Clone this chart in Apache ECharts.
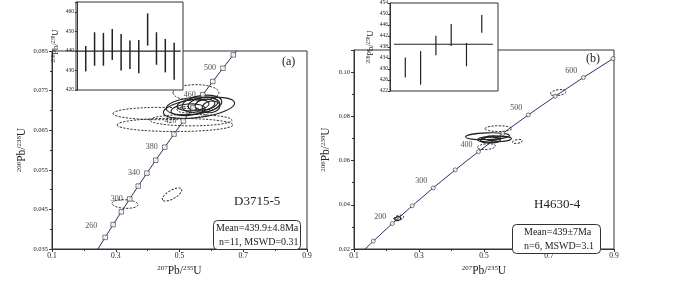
<!DOCTYPE html>
<html>
<head>
<meta charset="utf-8">
<script src="https://cdn.jsdelivr.net/npm/echarts@6/dist/echarts.min.js"></script>
<style>
html,body{margin:0;padding:0;background:#fff;}
#c{width:700px;height:282px;}
</style>
</head>
<body>
<div id="c"></div>
<script>
// ---------- Panel (a): D3715-5 ----------
const concA_age = [220, 240, 260, 280, 300, 320, 340, 360, 380, 400, 420, 440, 460, 480, 500, 520, 540];
const concA_r207 = [0.2419, 0.2667, 0.2918, 0.3175, 0.3437, 0.3705, 0.3977, 0.4255, 0.4539, 0.4828, 0.5123, 0.5424, 0.5731, 0.6044, 0.6363, 0.6688, 0.7020];
const concA_r206 = [0.03472, 0.03793, 0.04116, 0.04439, 0.04764, 0.05089, 0.05416, 0.05743, 0.06072, 0.06402, 0.06732, 0.07064, 0.07397, 0.07730, 0.08065, 0.08401, 0.08738];
const markA_ages = [240, 260, 280, 300, 320, 340, 360, 380, 400, 420, 440, 460, 480, 500, 520];
const labelA_ages = [260, 300, 340, 380, 420, 460, 500];
// ellipses: [x207, y206, halfWidthX, halfWidthY, tiltDeg, dashed]
const ellipsesA = [
  [0.5518, 0.07447, 0.0722, 0.00203, 0, 1],
  [0.4388, 0.06921, 0.1475, 0.00156, 0, 1],
  [0.4859, 0.06634, 0.1820, 0.00167, 0, 1],
  [0.5361, 0.06754, 0.1286, 0.00144, 0, 1],
  [0.5267, 0.07017, 0.0345, 0.00084, 0, 1],
  [0.3290, 0.04636, 0.0408, 0.00108, -3, 1],
  [0.4765, 0.04876, 0.0345, 0.00108, 30, 1],
  [0.5612, 0.07065, 0.1129, 0.00239, 8, 0],
  [0.5424, 0.07112, 0.0847, 0.00215, 6, 0],
  [0.5706, 0.07160, 0.0627, 0.00215, 8, 0],
  [0.5737, 0.07160, 0.0471, 0.00167, 10, 0],
  [0.5800, 0.07148, 0.0314, 0.00132, 10, 0],
  [0.5267, 0.07017, 0.0533, 0.00144, 5, 0],
  [0.5988, 0.07089, 0.0282, 0.00144, 10, 0],
  [0.5424, 0.07136, 0.0502, 0.00144, 5, 0]
];
const insetA_lo = [429.5, 432.4, 432.4, 435.4, 430.0, 430.7, 428.6, 442.7, 432.9, 429.0, 425.3];
const insetA_hi = [442.5, 449.5, 449.2, 451.2, 448.6, 445.3, 445.6, 459.2, 449.5, 446.1, 444.2];
const meanA = 439.9;

// ---------- Panel (b): H4630-4 ----------
const concB_age = [100, 150, 200, 250, 300, 350, 400, 450, 500, 550, 600, 650];
const concB_r207 = [0.10350, 0.15920, 0.21771, 0.27917, 0.34374, 0.41156, 0.48281, 0.55766, 0.63628, 0.71887, 0.80563, 0.89677];
const concB_r206 = [0.015633, 0.023542, 0.031511, 0.039543, 0.047637, 0.055795, 0.064016, 0.072300, 0.080650, 0.089064, 0.097544, 0.106090];
const markB_ages = [150, 200, 250, 300, 350, 400, 450, 500, 550, 600, 650];
const labelB_ages = [200, 300, 400, 500, 600];
const ellipsesB = [
  [0.5444, 0.07444, 0.0414, 0.00129, 0, 1],
  [0.5107, 0.07101, 0.0674, 0.00150, 2, 0],
  [0.5322, 0.06972, 0.0521, 0.00129, 2, 0],
  [0.5199, 0.06929, 0.0307, 0.00129, 2, 0],
  [0.5261, 0.07015, 0.0245, 0.00107, 2, 0],
  [0.5077, 0.06629, 0.0276, 0.00129, 5, 1],
  [0.6027, 0.06865, 0.0153, 0.00086, 10, 1],
  [0.2379, 0.03414, 0.0153, 0.00107, 15, 1],
  [0.2349, 0.03372, 0.0092, 0.00086, 20, 0],
  [0.7284, 0.09072, 0.0245, 0.00129, 8, 1]
];
const insetB_lo = [426.9, 424.3, 435.0, 438.4, 431.0, 443.2];
const insetB_hi = [434.2, 436.5, 442.1, 446.4, 439.5, 449.6];
const meanB = 439;

// ---------- helpers ----------
const FONT = 'Liberation Serif';
const INK = '#222';
const CURVE = '#2d2f6b';

function pairs(xs, ys) { return xs.map((x, i) => [x, ys[i]]); }
function markerData(ages, allAges, r207, r206) {
  return ages.map(a => { const i = allAges.indexOf(a); return [r207[i], r206[i], a]; });
}
function richName(a, b, c, d, size) {
  return {
    text: '{s|' + a + '}{n|' + b + '}{s|' + c + '}{n|' + d + '}',
    rich: {
      s: {fontFamily: FONT, fontSize: size * 0.6, color: INK, padding: [0, 0, size * 0.45, 0]},
      n: {fontFamily: FONT, fontSize: size, color: INK}
    }
  };
}
const xNameA = richName('207', 'Pb/', '235', 'U', 11.5);
const yNameMain = richName('206', 'Pb/', '238', 'U', 11.5);
const yNameInset = richName('206', 'Pb/', '238', 'U', 8.5);

function ellipseSeries(idx, data) {
  return {
    type: 'custom', xAxisIndex: idx, yAxisIndex: idx, z: 3, clip: true, silent: true,
    data: data,
    renderItem: function (params, api) {
      const c = api.coord([api.value(0), api.value(1)]);
      const sx = api.size([api.value(2), 0])[0];
      const sy = api.size([0, api.value(3)])[1];
      const dashed = api.value(5) === 1;
      return {
        type: 'ellipse',
        x: c[0], y: c[1],
        rotation: api.value(4) * Math.PI / 180,
        shape: {cx: 0, cy: 0, rx: sx, ry: sy},
        style: {fill: null, stroke: INK, lineWidth: dashed ? 0.9 : 1.1, lineDash: dashed ? [2.2, 1.4] : null}
      };
    }
  };
}
function errorBarSeries(idx, lo, hi, width) {
  return {
    type: 'custom', xAxisIndex: idx, yAxisIndex: idx, z: 12, silent: true,
    data: lo.map((l, i) => [i + 1, l, hi[i]]),
    renderItem: function (params, api) {
      const p1 = api.coord([api.value(0), api.value(1)]);
      const p2 = api.coord([api.value(0), api.value(2)]);
      return {type: 'line', shape: {x1: p1[0], y1: p1[1], x2: p2[0], y2: p2[1]},
              style: {stroke: INK, lineWidth: width}};
    }
  };
}
function concordiaLine(idx, r207, r206) {
  return {type: 'line', xAxisIndex: idx, yAxisIndex: idx, data: pairs(r207, r206),
          showSymbol: false, symbol: 'none', clip: true, z: 2, silent: true,
          lineStyle: {color: CURVE, width: 1}};
}
function markerSeries(idx, data, labelAges, symbol, size, offset, special) {
  return {
    type: 'scatter', xAxisIndex: idx, yAxisIndex: idx, z: 4, silent: true,
    symbol: symbol, symbolSize: size,
    itemStyle: {color: '#fff', borderColor: '#333', borderWidth: 0.8},
    data: data.map(d => {
      const item = {value: d};
      if (labelAges.indexOf(d[2]) >= 0) {
        item.label = {show: true, position: 'inside', formatter: String(d[2]),
                      offset: (special && special[d[2]]) || offset,
                      fontFamily: FONT, fontSize: 8, color: INK};
      }
      return item;
    })
  };
}
const axisLineStyle = {show: true, lineStyle: {color: '#333', width: 1}};

const option = {
  animation: false,
  backgroundColor: '#fff',
  grid: [
    {left: 52, top: 51, width: 255, height: 209, show: true, borderColor: '#333', borderWidth: 1, backgroundColor: 'transparent', z: 0},
    {left: 76, top: 2, width: 107, height: 88, show: true, borderColor: '#333', borderWidth: 1, backgroundColor: '#fff', z: 10},
    {left: 354, top: 50, width: 260, height: 210, show: true, borderColor: '#333', borderWidth: 1, backgroundColor: 'transparent', z: 0},
    {left: 390, top: 2, width: 108, height: 89, show: true, borderColor: '#333', borderWidth: 1, backgroundColor: '#fff', z: 10}
  ],
  xAxis: [
    {type: 'value', gridIndex: 0, min: 0.1, max: 0.9, interval: 0.2,
     axisLine: axisLineStyle, splitLine: {show: false},
     axisTick: {show: true, length: 3, lineStyle: {color: '#333'}},
     minorTick: {show: true, splitNumber: 2, length: 2, lineStyle: {color: '#333'}},
     axisLabel: {fontFamily: FONT, fontSize: 7.5, color: INK, margin: 3, formatter: v => v.toFixed(1)},
     name: xNameA.text, nameLocation: 'middle', nameGap: 12,
     nameTextStyle: {fontFamily: FONT, fontSize: 11.5, color: INK, rich: xNameA.rich}},
    {type: 'value', gridIndex: 1, min: -0.1, max: 12.0, show: false},
    {type: 'value', gridIndex: 2, min: 0.1, max: 0.9, interval: 0.2,
     axisLine: axisLineStyle, splitLine: {show: false},
     axisTick: {show: true, length: 3, lineStyle: {color: '#333'}},
     minorTick: {show: true, splitNumber: 2, length: 2, lineStyle: {color: '#333'}},
     axisLabel: {fontFamily: FONT, fontSize: 7.5, color: INK, margin: 3, formatter: v => v.toFixed(1)},
     name: xNameA.text, nameLocation: 'middle', nameGap: 12,
     nameTextStyle: {fontFamily: FONT, fontSize: 11.5, color: INK, rich: xNameA.rich}},
    {type: 'value', gridIndex: 3, min: 0, max: 7.06, show: false}
  ],
  yAxis: [
    {type: 'value', gridIndex: 0, min: 0.035, max: 0.085, interval: 0.01,
     axisLine: axisLineStyle, splitLine: {show: false},
     axisTick: {show: true, length: 3, lineStyle: {color: '#333'}},
     minorTick: {show: true, splitNumber: 2, length: 2, lineStyle: {color: '#333'}},
     axisLabel: {fontFamily: FONT, fontSize: 6.5, color: INK, margin: 4, formatter: v => v.toFixed(3)},
     name: yNameMain.text, nameLocation: 'middle', nameGap: 24, nameRotate: 90,
     nameTextStyle: {fontFamily: FONT, fontSize: 11.5, color: INK, rich: yNameMain.rich}},
    {type: 'value', gridIndex: 1, min: 420, max: 465, interval: 10, z: 11,
     axisLine: axisLineStyle, splitLine: {show: false},
     axisTick: {show: true, length: 2, lineStyle: {color: '#333'}},
     axisLabel: {fontFamily: FONT, fontSize: 5.5, color: INK, margin: 2,
                 formatter: v => (v > 462 ? '' : String(Math.round(v)))},
     name: yNameInset.text, nameLocation: 'middle', nameGap: 16, nameRotate: 90,
     nameTextStyle: {fontFamily: FONT, fontSize: 8.5, color: INK, rich: yNameInset.rich}},
    {type: 'value', gridIndex: 2, min: 0.02, max: 0.11, interval: 0.02,
     axisLine: axisLineStyle, splitLine: {show: false},
     axisTick: {show: true, length: 3, lineStyle: {color: '#333'}},
     minorTick: {show: true, splitNumber: 2, length: 2, lineStyle: {color: '#333'}},
     axisLabel: {fontFamily: FONT, fontSize: 6.5, color: INK, margin: 4,
                 formatter: v => (v > 0.105 ? '' : v.toFixed(2))},
     name: yNameMain.text, nameLocation: 'middle', nameGap: 22, nameRotate: 90,
     nameTextStyle: {fontFamily: FONT, fontSize: 11.5, color: INK, rich: yNameMain.rich}},
    {type: 'value', gridIndex: 3, min: 422, max: 454, interval: 4, z: 11,
     axisLine: axisLineStyle, splitLine: {show: false},
     axisTick: {show: true, length: 2, lineStyle: {color: '#333'}},
     axisLabel: {fontFamily: FONT, fontSize: 5.5, color: INK, margin: 2, formatter: v => String(Math.round(v))},
     name: yNameInset.text, nameLocation: 'middle', nameGap: 15, nameRotate: 90,
     nameTextStyle: {fontFamily: FONT, fontSize: 8.5, color: INK, rich: yNameInset.rich}}
  ],
  series: [
    concordiaLine(0, concA_r207, concA_r206),
    ellipseSeries(0, ellipsesA),
    markerSeries(0, markerData(markA_ages, concA_age, concA_r207, concA_r206), labelA_ages, 'rect', 4.5, [-13, 0], {260: [-22, 1]}),
    {type: 'line', xAxisIndex: 1, yAxisIndex: 1, z: 12, symbol: 'none', silent: true,
     data: [[-0.1, meanA], [11.75, meanA]], lineStyle: {color: INK, width: 1.2}},
    errorBarSeries(1, insetA_lo, insetA_hi, 1.5),

    concordiaLine(2, concB_r207, concB_r206),
    ellipseSeries(2, ellipsesB),
    markerSeries(2, markerData(markB_ages, concB_age, concB_r207, concB_r206), labelB_ages, 'circle', 4, [-12, -7], null),
    {type: 'line', xAxisIndex: 3, yAxisIndex: 3, z: 12, symbol: 'none', silent: true,
     data: [[0.26, meanB], [6.74, meanB]], lineStyle: {color: INK, width: 1.2}},
    errorBarSeries(3, insetB_lo, insetB_hi, 1.2)
  ],
  graphic: [
    {type: 'text', left: 282, top: 56, z: 20, style: {text: '(a)', fontFamily: FONT, fontSize: 12, fill: INK}},
    {type: 'text', left: 234, top: 195, z: 20, style: {text: 'D3715-5', fontFamily: FONT, fontSize: 13, fill: INK}},
    {type: 'rect', left: 213, top: 220, z: 20, shape: {width: 87, height: 29, r: 4},
     style: {fill: '#fff', stroke: '#333', lineWidth: 1}},
    {type: 'text', left: 216, top: 223, z: 21, style: {text: 'Mean=439.9±4.8Ma', fontFamily: FONT, fontSize: 10, fill: INK}},
    {type: 'text', left: 219, top: 237, z: 21, style: {text: 'n=11, MSWD=0.31', fontFamily: FONT, fontSize: 10, fill: INK}},

    {type: 'text', left: 586, top: 53, z: 20, style: {text: '(b)', fontFamily: FONT, fontSize: 12, fill: INK}},
    {type: 'text', left: 534, top: 198, z: 20, style: {text: 'H4630-4', fontFamily: FONT, fontSize: 13, fill: INK}},
    {type: 'rect', left: 512, top: 224, z: 20, shape: {width: 88, height: 29, r: 4},
     style: {fill: '#fff', stroke: '#333', lineWidth: 1}},
    {type: 'text', left: 524, top: 227, z: 21, style: {text: 'Mean=439±7Ma', fontFamily: FONT, fontSize: 10, fill: INK}},
    {type: 'text', left: 524, top: 241, z: 21, style: {text: 'n=6, MSWD=3.1', fontFamily: FONT, fontSize: 10, fill: INK}}
  ]
};

const chart = echarts.init(document.getElementById('c'), null, {renderer: 'canvas'});
chart.setOption(option);
</script>
</body>
</html>
